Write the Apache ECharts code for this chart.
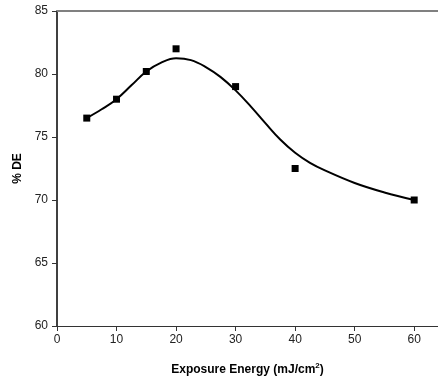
<!DOCTYPE html>
<html>
<head>
<meta charset="utf-8">
<script src="https://cdn.jsdelivr.net/npm/echarts@6/dist/echarts.min.js"></script>
<style>
  html, body { margin: 0; padding: 0; background: #fff; }
  #chart { width: 438px; height: 383px; }
</style>
</head>
<body>
<div id="chart"></div>
<script>
// Measured diffraction efficiency versus exposure energy
const exposure = [5, 10, 15, 20, 30, 40, 60];
const efficiency = [76.5, 78.0, 80.2, 82.0, 79.0, 72.5, 70.0];

// Smoothed trend through the measurements
const fitX = [5, 7.5, 10, 12.5, 15, 17.5, 20, 22.5, 25, 27.5, 30, 32.5, 35, 37.5, 40, 42.5, 45, 50, 55, 60];
const fitY = [76.5, 77.2, 78.0, 79.1, 80.2, 80.9, 81.25, 81.1, 80.55, 79.75, 78.7, 77.45, 76.1, 74.8, 73.75, 72.95, 72.35, 71.35, 70.6, 70.0];

const xTicks = [0, 10, 20, 30, 40, 50, 60];
const yTicks = [60, 65, 70, 75, 80, 85];

const font = 'Liberation Sans, Arial, sans-serif';
const chart = echarts.init(document.getElementById('chart'));

chart.setOption({
  animation: false,
  grid: { left: 57, right: 0, top: 11, bottom: 57 },
  xAxis: [{
    type: 'value',
    min: 0, max: 64, interval: 10,
    name: '{t|Exposure Energy (mJ/cm}{s|2}{t|)}',
    nameLocation: 'middle',
    nameGap: 36,
    nameTextStyle: {
      fontFamily: font, fontSize: 12, fontWeight: 'bold', color: '#000',
      rich: {
        t: { fontFamily: font, fontSize: 12, fontWeight: 'bold', color: '#000', lineHeight: 16 },
        s: { fontFamily: font, fontSize: 8, fontWeight: 'bold', color: '#000', lineHeight: 16, verticalAlign: 'top', padding: [0, 0, 6, 0] }
      }
    },
    axisLine: { show: true, lineStyle: { color: '#333', width: 1 } },
    axisTick: { show: true, length: 5, lineStyle: { color: '#333' }, customValues: xTicks },
    axisLabel: {
      fontFamily: font, fontSize: 12, color: '#222', margin: 8,
      customValues: xTicks
    },
    splitLine: { show: false }
  }, {
    type: 'value',
    position: 'top',
    min: 0, max: 64,
    axisLine: { show: true, lineStyle: { color: '#808080', width: 2 } },
    axisTick: { show: false },
    axisLabel: { show: false },
    splitLine: { show: false }
  }],
  yAxis: {
    type: 'value',
    min: 60, max: 85, interval: 5,
    name: '% DE',
    nameLocation: 'middle',
    nameGap: 30,
    nameRotate: 90,
    nameTextStyle: { fontFamily: font, fontSize: 12, fontWeight: 'bold', color: '#000' },
    axisLine: { show: true, lineStyle: { color: '#000', width: 1.5 } },
    axisTick: { show: true, length: 5, lineStyle: { color: '#333' } },
    axisLabel: {
      fontFamily: font, fontSize: 12, color: '#222', margin: 9,
      customValues: yTicks
    },
    splitLine: { show: false }
  },
  series: [{
    type: 'line',
    data: fitX.map((x, i) => [x, fitY[i]]),
    smooth: 0.4,
    showSymbol: false,
    lineStyle: { color: '#000', width: 2 },
    z: 2
  }, {
    type: 'scatter',
    data: exposure.map((x, i) => [x, efficiency[i]]),
    symbol: 'rect',
    symbolSize: 7,
    itemStyle: { color: '#000', opacity: 1 },
    z: 3
  }]
});
</script>
</body>
</html>
